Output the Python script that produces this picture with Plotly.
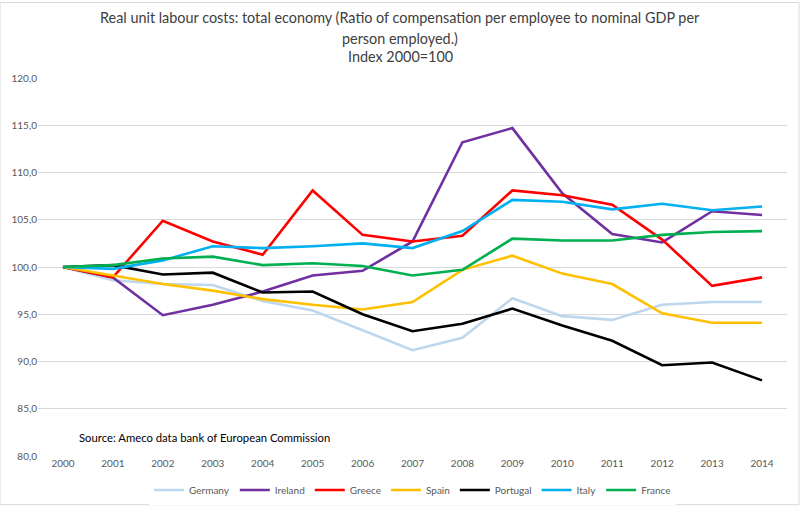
import plotly.graph_objects as go

years = [str(y) for y in range(2000, 2015)]

germany  = [100.0, 98.6, 98.2, 98.1, 96.4, 95.4, 93.3, 91.2, 92.5, 96.7, 94.8, 94.4, 96.0, 96.3, 96.3]
ireland  = [100.0, 98.9, 94.9, 96.0, 97.4, 99.1, 99.6, 102.7, 113.2, 114.7, 107.8, 103.5, 102.6, 105.9, 105.5]
greece   = [100.0, 98.9, 104.9, 102.7, 101.3, 108.1, 103.4, 102.7, 103.3, 108.1, 107.6, 106.6, 102.9, 98.0, 98.9]
spain    = [100.0, 99.1, 98.2, 97.5, 96.6, 96.0, 95.5, 96.3, 99.7, 101.2, 99.3, 98.2, 95.1, 94.1, 94.1]
portugal = [100.0, 100.2, 99.2, 99.4, 97.3, 97.4, 95.0, 93.2, 94.0, 95.6, 93.8, 92.2, 89.6, 89.9, 88.0]
italy    = [100.0, 99.8, 100.7, 102.2, 102.0, 102.2, 102.5, 102.0, 103.8, 107.1, 106.9, 106.1, 106.7, 106.0, 106.4]
france   = [100.0, 100.2, 100.9, 101.1, 100.2, 100.4, 100.1, 99.1, 99.7, 103.0, 102.8, 102.8, 103.4, 103.7, 103.8]

series = [
    ("Germany", germany, "#BDD7EE"),
    ("Ireland", ireland, "#7030A0"),
    ("Greece", greece, "#FF0000"),
    ("Spain", spain, "#FFC000"),
    ("Portugal", portugal, "#000000"),
    ("Italy", italy, "#00B0F0"),
    ("France", france, "#00B050"),
]

title_lines = [
    "Real unit labour costs: total economy (Ratio of compensation per employee to nominal GDP per",
    "person employed.)",
    "Index 2000=100",
]
source_text = "Source: Ameco data bank of European Commission"

FONT = "Lato"

fig = go.Figure()
for name, vals, col in series:
    fig.add_trace(go.Scatter(x=years, y=vals, name=name, mode="lines",
                             line=dict(color=col, width=2.6)))

fig.update_layout(
    width=800, height=517,
    margin=dict(l=38, r=13, t=78, b=51),
    paper_bgcolor="white", plot_bgcolor="white",
    separators=", ",
    font=dict(family=FONT, color="#595959", size=10),
    showlegend=True,
    legend=dict(orientation="h", x=0.5, xanchor="center", y=-0.09, yanchor="middle",
                font=dict(size=10, color="#595959"), itemwidth=30,
                traceorder="normal"),
    xaxis=dict(type="category", range=[-0.5, 14.5], showgrid=False, zeroline=False,
               showline=False, ticks="", tickfont=dict(size=10, color="#595959")),
    yaxis=dict(range=[80, 120], dtick=5, tickformat=".1f", showgrid=True,
               gridcolor="#D9D9D9", gridwidth=1, zeroline=False, showline=False,
               ticks="", tickfont=dict(size=10, color="#595959")),
)

ys = [16, 37, 56]
for txt, py in zip(title_lines, ys):
    fig.add_annotation(text=txt, xref="paper", yref="paper",
                       x=(400 - 38) / 749, y=(466 - py) / 388,
                       xanchor="center", yanchor="middle", showarrow=False,
                       font=dict(family=FONT, size=14.4, color="#404040"))

fig.add_annotation(text=source_text, xref="paper", yref="paper",
                   x=(77 - 38) / 749, y=(466 - 447) / 388,
                   xanchor="left", yanchor="middle", showarrow=False,
                   font=dict(family=FONT, size=11.3, color="#000000"))

fig.add_shape(type="rect", xref="paper", yref="paper",
              x0=-38 / 749, x1=(799 - 38) / 749, y0=-50 / 388, y1=(466 - 0.5) / 388,
              line=dict(color="#D9D9D9", width=1), fillcolor="rgba(0,0,0,0)", layer="below")

fig.write_html("out.html")
